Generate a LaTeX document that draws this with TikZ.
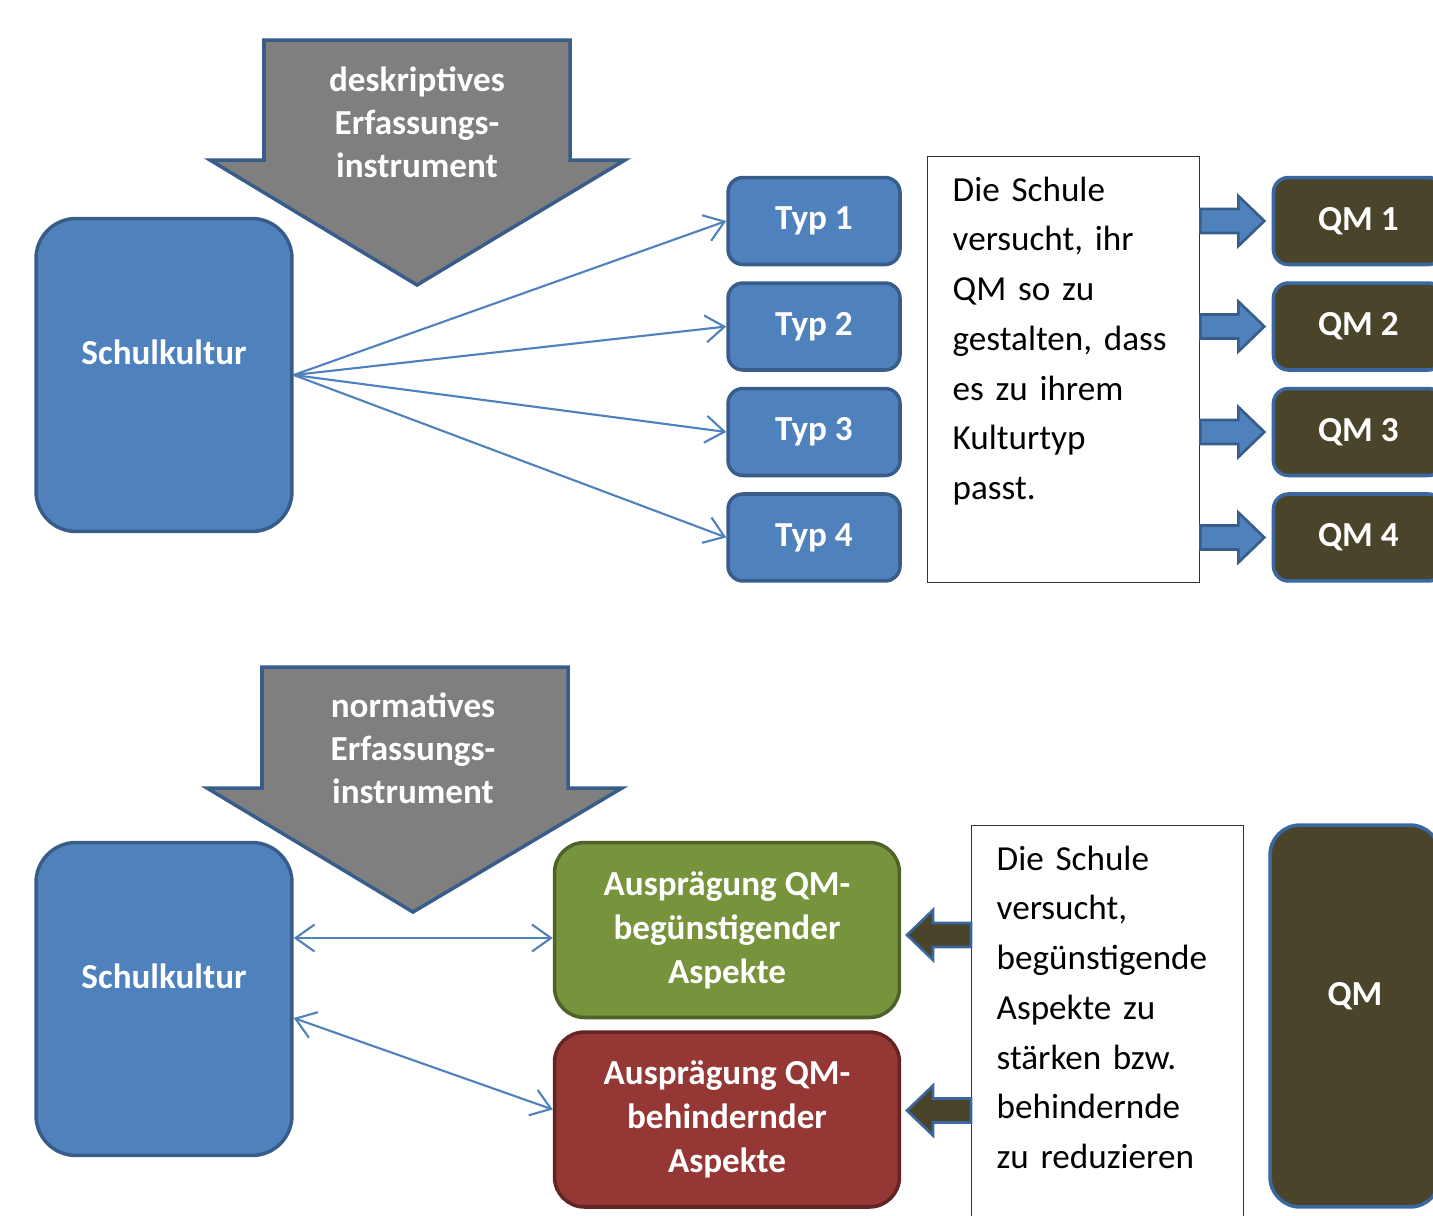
\documentclass[tikz,border=0pt]{standalone}
\usepackage{fontspec}
\setmainfont{Carlito}
\usetikzlibrary{arrows.meta, positioning, calc}

\definecolor{blfill}{HTML}{4F81BD}
\definecolor{bldraw}{HTML}{385D8A}
\definecolor{qmfill}{HTML}{4A452A}
\definecolor{qmdraw}{HTML}{3B67A0}
\definecolor{grfill}{HTML}{77933C}
\definecolor{grdraw}{HTML}{4F6228}
\definecolor{rdfill}{HTML}{953735}
\definecolor{rddraw}{HTML}{632523}
\definecolor{arrgray}{HTML}{7F7F7F}

\begin{document}
\begin{tikzpicture}[
		x=0.02cm, y=-0.02cm,
		>={Straight Barb[length=3.8mm,width=5.4mm]},
		% Estilos de los bloques
		box/.style={draw, line width=2pt, rounded corners=0.3cm, text=white, align=center, font=\bfseries\fontsize{20}{25}\selectfont},
		kultur/.style={box, fill=blfill, draw=bldraw, rounded corners=0.8cm, minimum width=5.12cm, minimum height=6.26cm, text depth=0.9cm},
		typ/.style={box, fill=blfill, draw=bldraw, minimum width=3.44cm, minimum height=1.74cm},
		qm/.style={box, fill=qmfill, draw=qmdraw, minimum width=3.4cm, minimum height=1.74cm},
		auspr/.style={box, rounded corners=0.6cm, minimum width=6.9cm, minimum height=3.5cm},
		textbox/.style={draw=black!80, line width=0.8pt, anchor=north west, align=left, text width=4.44cm, inner xsep=0.5cm, inner ysep=0.34cm, text height=0.55cm, font=\fontsize{20}{28.3}\selectfont},
		instr/.style={draw=bldraw, line width=2pt, fill=arrgray, line join=miter},
		instrtxt/.style={text=white, align=center, font=\bfseries\fontsize{20}{24.4}\selectfont},
		line/.style={draw=blfill, line width=1.2pt, ->},
		pics/fat/.style={code={\draw[pic actions] (0,-12) -- (38,-12) -- (38,-25) -- (64,0) -- (38,25) -- (38,12) -- (0,12) -- cycle;}}
		]
		
		\useasboundingbox (0,0) rectangle (1433,1215);
		\clip (0,0) rectangle (1433,1215);
		
		% --- OBEN: DESKRIPTIV ---
		
		% Pfeil Erfassungsinstrument
		\draw [instr] (264,40) -- (570,40) -- (570,160) -- (625,160) -- (417,285) -- (210,160) -- (264,160) -- cycle;
		\node [instrtxt] (descr) at (417,122) {deskriptives\\Erfassungs-\\instrument};
		
		% Schulkultur und Typen
		\node [kultur] (kultur1) at (164,375) {Schulkultur};
		\node [typ] (typ1) at (814,221) {Typ 1};
		\node [typ, below=0.3cm of typ1] (typ2) {Typ 2};
		\node [typ, below=0.3cm of typ2] (typ3) {Typ 3};
		\node [typ, below=0.3cm of typ3] (typ4) {Typ 4};
		
		% Textfeld
		\node [textbox, text depth=7.29cm] (txtA) at (927,156) {Die Schule\\versucht, ihr\\QM so zu\\gestalten, dass\\es zu ihrem\\Kulturtyp\\passt.};
		
		% QM-Bloecke
		\node [qm, right=7.4cm of typ1] (qm1) {QM 1};
		\node [qm, right=7.4cm of typ2] (qm2) {QM 2};
		\node [qm, right=7.4cm of typ3] (qm3) {QM 3};
		\node [qm, right=7.4cm of typ4] (qm4) {QM 4};
		
		% Linien
		\draw [line] (kultur1.east) -- (typ1.west);
		\draw [line] (kultur1.east) -- (typ2.west);
		\draw [line] (kultur1.east) -- (typ3.west);
		\draw [line] (kultur1.east) -- (typ4.west);
		
		\pic [fill=blfill, draw=bldraw, line width=1.5pt] at (txtA.east |- qm1.west) {fat};
		\pic [fill=blfill, draw=bldraw, line width=1.5pt] at (txtA.east |- qm2.west) {fat};
		\pic [fill=blfill, draw=bldraw, line width=1.5pt] at (txtA.east |- qm3.west) {fat};
		\pic [fill=blfill, draw=bldraw, line width=1.5pt] at (txtA.east |- qm4.west) {fat};
		
		% --- UNTEN: NORMATIV ---
		
		% Pfeil Erfassungsinstrument
		\draw [instr] (262,667) -- (568,667) -- (568,788) -- (622,788) -- (413,912) -- (207,788) -- (262,788) -- cycle;
		\node [instrtxt] (norm) at (413,748) {normatives\\Erfassungs-\\instrument};
		
		\node [kultur] (kultur2) at (164,999) {Schulkultur};
		\node [auspr, fill=grfill, draw=grdraw] (green) at (727,930) {Auspr\"agung QM-\\beg\"unstigender\\Aspekte};
		\node [auspr, fill=rdfill, draw=rddraw] (red) at (727,1119.5) {Auspr\"agung QM-\\behindernder\\Aspekte};
		
		\node [textbox, text depth=9cm] (txtB) at (971,825) {Die Schule\\versucht,\\beg\"unstigende\\Aspekte zu\\st\"arken bzw.\\behindernde\\zu reduzieren};
		
		\node [qm, rounded corners=0.6cm, minimum height=7.64cm, text depth=0.9cm] (qm) at (1355,1016) {QM};
		
		% Linien
		\coordinate (gin) at ($(green.west)+(0,8)$);
		\coordinate (rin) at ($(red.west)+(0,-10)$);
		\draw [line, <->] (kultur2.east |- gin) -- (gin);
		\draw [line, <->] ($(kultur2.east)+(0,19)$) -- (rin);
		
		\pic [rotate=180, fill=qmfill, draw=qmdraw, line width=1.5pt] at ($(txtB.west |- green.east)+(0,5)$) {fat};
		\pic [rotate=180, fill=qmfill, draw=qmdraw, line width=1.5pt] at ($(txtB.west |- red.east)+(0,-9)$) {fat};
		
	\end{tikzpicture}
\end{document}
